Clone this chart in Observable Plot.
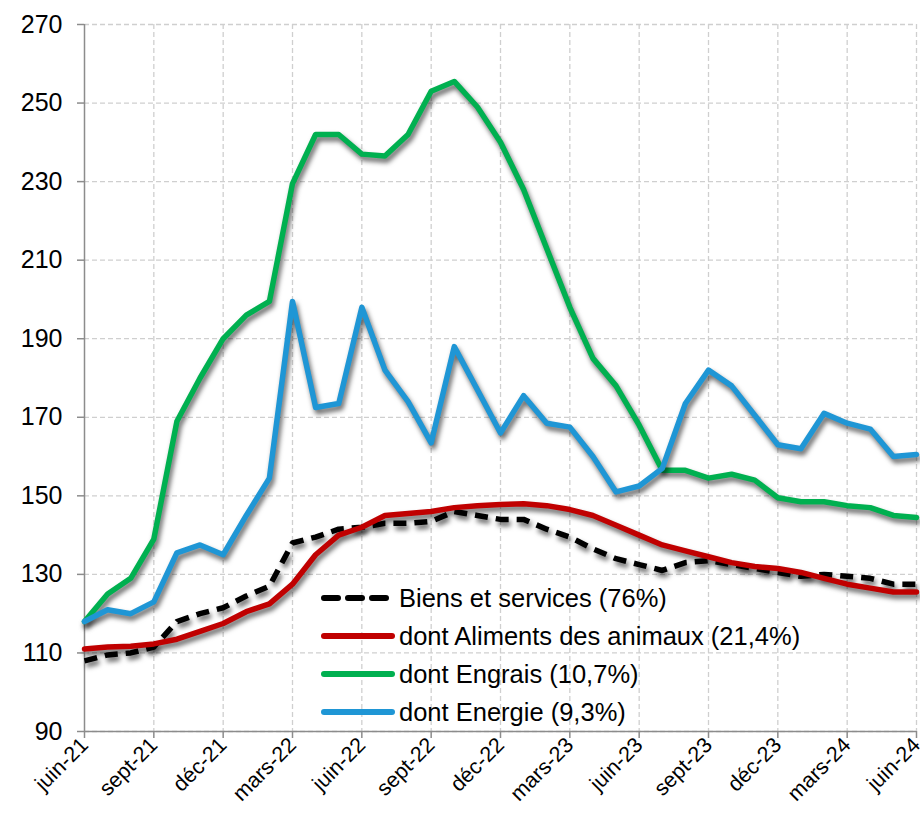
<!DOCTYPE html>
<html>
<head>
<meta charset="utf-8">
<script src="https://cdn.jsdelivr.net/npm/d3@7"></script>
<script src="https://cdn.jsdelivr.net/npm/@observablehq/plot@0.6"></script>
<style>
  body { margin: 0; background: #fff; font-family: "Liberation Sans", Arial, sans-serif; }
  #wrap { position: relative; width: 920px; height: 819px; }
  #legend { position: absolute; left: 320px; top: 579px; font-size: 25.5px; color: #000; white-space: nowrap; }
  .row { display: flex; align-items: center; height: 38px; }
  .row svg { margin-right: 3px; }
</style>
</head>
<body>
<div id="wrap"><div id="chart"></div><div id="legend"></div></div>
<script>
const months = ["juin-21","juil-21","août-21","sept-21","oct-21","nov-21","déc-21","janv-22","févr-22","mars-22","avr-22","mai-22","juin-22","juil-22","août-22","sept-22","oct-22","nov-22","déc-22","janv-23","févr-23","mars-23","avr-23","mai-23","juin-23","juil-23","août-23","sept-23","oct-23","nov-23","déc-23","janv-24","févr-24","mars-24","avr-24","mai-24","juin-24"];
const seriesNames = ["Biens et services (76%)","dont Aliments des animaux (21,4%)","dont Engrais (10,7%)","dont Energie (9,3%)"];
const biens    = [108,109.5,110,111.5,118,120,121.5,124.5,127,138,139.5,141.5,142,143,143,143.5,146,145,144,144,141.5,139.5,136.5,134,132.5,131,133,133.5,132.5,131.5,130.5,129.5,130,129.5,129,127.5,127.5];
const aliments = [111,111.5,111.7,112.3,113.5,115.5,117.5,120.5,122.5,127.5,135,140,142,145,145.5,146,147,147.5,147.8,148,147.5,146.5,145,142.5,140,137.5,136,134.5,133,132,131.5,130.5,129,127.5,126.5,125.5,125.5];
const engrais  = [118,125,129,139,169,180,190,196,199.5,229.5,242,242,237,236.5,242,253,255.5,249,240,228,213,198,185,178,168,156.5,156.5,154.5,155.5,154,149.5,148.5,148.5,147.5,147,145,144.5];
const energie  = [118,121,120,123,135.5,137.5,135,145,154.5,199.5,172.5,173.5,198,182,174,163.5,188,177,166,175.5,168.5,167.5,160,151,152.5,157,173.5,182,178,170.5,163,162,171,168.5,167,160,160.5];
const yTicks = [90,110,130,150,170,190,210,230,250,270];
const xTickIdx = d3.range(0, 37, 3);

const colors = ["#000000","#C00000","#00B050","#1F96D5"];
const allSeries = [biens, aliments, engrais, energie];

const data = allSeries.flatMap((vals, s) => vals.map((v, i) => ({s, i, v})));

const lineMarks = allSeries.map((vals, s) =>
  Plot.line(data.filter(d => d.s === s), {
    x: "i", y: "v", stroke: colors[s], strokeWidth: 5.5,
    strokeDasharray: s === 0 ? "13,8" : undefined,
    strokeLinejoin: "round", strokeLinecap: s === 0 ? "butt" : "round"
  })
);

const chart = Plot.plot({
  width: 920, height: 819,
  marginLeft: 84, marginRight: 4, marginTop: 24, marginBottom: 88,
  style: {fontFamily: "'Liberation Sans', Arial, sans-serif", background: "#fff", overflow: "visible"},
  x: {domain: [0, 36]},
  y: {domain: [90, 270]},
  marks: [
    Plot.gridY(yTicks, {stroke: "#cfcfcf", strokeOpacity: 1, strokeWidth: 1.3, strokeDasharray: "5,3"}),
    Plot.gridX(xTickIdx.filter(i => i > 0), {stroke: "#cfcfcf", strokeOpacity: 1, strokeWidth: 1.3, strokeDasharray: "5,3"}),
    Plot.axisY(yTicks, {tickSize: 7, tickPadding: 15, fontSize: 25, stroke: "#8c8c8c", strokeWidth: 1.5, color: "#000", label: null}),
    Plot.axisX(xTickIdx, {tickSize: 7, tickPadding: 3, fontSize: 21.5, tickRotate: -45, tickFormat: i => months[i], stroke: "#8c8c8c", strokeWidth: 1.5, label: null}),
    Plot.ruleX([0], {stroke: "#8c8c8c", strokeWidth: 1.5}),
    Plot.ruleY([90], {stroke: "#8c8c8c", strokeWidth: 1.5}),
    ...lineMarks
  ]
});

d3.select(chart).selectAll('g[aria-label="line"]')
  .style("filter", "drop-shadow(2px 4px 2.5px rgba(0,0,0,0.6))");

document.getElementById("chart").appendChild(chart);

const legend = d3.select("#legend");
seriesNames.forEach((name, s) => {
  const row = legend.append("div").attr("class", "row");
  const sv = row.append("svg").attr("width", 76).attr("height", 12);
  sv.append("line").attr("x1", 4).attr("x2", 72).attr("y1", 6).attr("y2", 6)
    .attr("stroke", colors[s]).attr("stroke-width", 6).attr("stroke-linecap", "round")
    .attr("stroke-dasharray", s === 0 ? "14,10" : null);
  row.append("span").text(name);
});
</script>
</body>
</html>
